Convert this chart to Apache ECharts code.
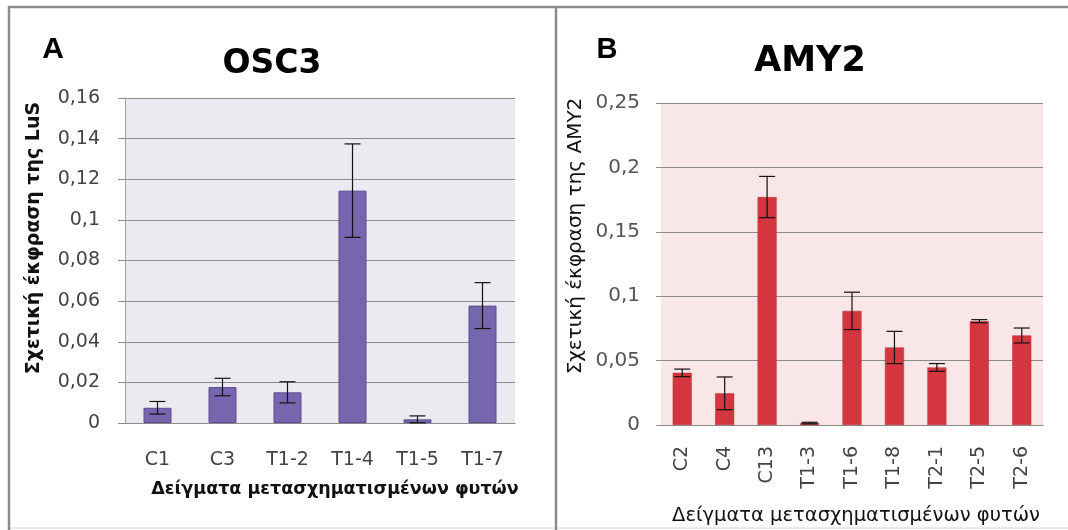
<!DOCTYPE html>
<html>
<head>
<meta charset="utf-8">
<script src="https://cdn.jsdelivr.net/npm/echarts@6/dist/echarts.min.js"></script>
<style>
  html, body { margin: 0; padding: 0; background: #ffffff; }
  #chart { width: 1068px; height: 530px; }
</style>
</head>
<body>
<div id="chart"></div>
<script>
// Panel A: OSC3 relative expression
const osc3Categories = ['C1', 'C3', 'T1-2', 'T1-4', 'T1-5', 'T1-7'];
const osc3Values = [0.0075, 0.0177, 0.0151, 0.1144, 0.0018, 0.0578];
const osc3Errors = [0.0031, 0.0043, 0.0052, 0.0230, 0.0017, 0.0113];
const osc3Ticks = { min: 0, max: 0.16, interval: 0.02 };

// Panel B: AMY2 relative expression
const amy2Categories = ['C2', 'C4', 'C13', 'T1-3', 'T1-6', 'T1-8', 'T2-1', 'T2-5', 'T2-6'];
const amy2Values = [0.0405, 0.0246, 0.1770, 0.0015, 0.0886, 0.0602, 0.0447, 0.0806, 0.0695];
const amy2Errors = [0.0029, 0.0127, 0.0160, 0.0006, 0.0145, 0.0125, 0.0030, 0.0012, 0.0058];
const amy2Ticks = { min: 0, max: 0.25, interval: 0.05 };

const FONT = 'DejaVu Sans';
const commaFmt = v => v === 0 ? '0' : String(parseFloat(v.toFixed(2))).replace('.', ',');

function errorBarSeries(xAxisIndex, yAxisIndex, values, errors, capHalf) {
  return {
    type: 'custom',
    xAxisIndex, yAxisIndex,
    silent: true,
    z: 5,
    data: values.map((v, i) => [i, v, errors[i]]),
    encode: { x: 0, y: 1 },
    renderItem(params, api) {
      const i = api.value(0), v = api.value(1), e = api.value(2);
      const hi = api.coord([i, v + e]);
      const lo = api.coord([i, Math.max(0, v - e)]);
      const style = { stroke: '#111111', lineWidth: 1.2 };
      return {
        type: 'group',
        children: [
          { type: 'line', shape: { x1: hi[0], y1: hi[1], x2: lo[0], y2: lo[1] }, style },
          { type: 'line', shape: { x1: hi[0] - capHalf, y1: hi[1], x2: hi[0] + capHalf, y2: hi[1] }, style },
          { type: 'line', shape: { x1: lo[0] - capHalf, y1: lo[1], x2: lo[0] + capHalf, y2: lo[1] }, style }
        ]
      };
    }
  };
}

const chart = echarts.init(document.getElementById('chart'), null, { renderer: 'canvas' });

chart.setOption({
  animation: false,
  backgroundColor: '#ffffff',
  grid: [
    { left: 125, top: 98, width: 390, height: 325, show: true, backgroundColor: '#ebeaf1', borderWidth: 0 },
    { left: 661, top: 103, width: 382, height: 322, show: true, backgroundColor: '#f9e6e6', borderWidth: 0 }
  ],
  xAxis: [
    {
      type: 'category', gridIndex: 0, data: osc3Categories,
      axisLine: { lineStyle: { color: '#8a8a8a', width: 1 } },
      axisTick: { show: false },
      axisLabel: { fontFamily: FONT, fontSize: 19, color: '#444444', margin: 28 }
    },
    {
      type: 'category', gridIndex: 1, data: amy2Categories,
      axisLine: { lineStyle: { color: '#8a8a8a', width: 1 } },
      axisTick: { show: false },
      axisLabel: { fontFamily: FONT, fontSize: 19, color: '#444444', rotate: 90, margin: 21 }
    }
  ],
  yAxis: [
    {
      type: 'value', gridIndex: 0, ...osc3Ticks,
      axisLine: { show: true, lineStyle: { color: '#a0a0a0' } },
      axisTick: { show: true, length: 7, lineStyle: { color: '#8a8a8a' } },
      splitLine: { lineStyle: { color: '#8a8a8a', width: 1 } },
      axisLabel: { fontFamily: FONT, fontSize: 19, color: '#444444', margin: 25, formatter: commaFmt }
    },
    {
      type: 'value', gridIndex: 1, ...amy2Ticks,
      axisLine: { show: false },
      axisTick: { show: true, length: 5, lineStyle: { color: '#8a8a8a' } },
      splitLine: { lineStyle: { color: '#8a8a8a', width: 1 } },
      axisLabel: { fontFamily: FONT, fontSize: 20, color: '#555555', margin: 21, formatter: commaFmt }
    }
  ],
  series: [
    {
      type: 'bar', xAxisIndex: 0, yAxisIndex: 0, data: osc3Values, barWidth: 28,
      itemStyle: { color: '#7666ae', borderColor: '#5b4d92', borderWidth: 1 }
    },
    errorBarSeries(0, 0, osc3Values, osc3Errors, 8),
    {
      type: 'bar', xAxisIndex: 1, yAxisIndex: 1, data: amy2Values, barWidth: 19,
      itemStyle: { color: '#d3363e', borderColor: '#b8262e', borderWidth: 0.5 }
    },
    errorBarSeries(1, 1, amy2Values, amy2Errors, 8)
  ],
  graphic: [
    // panel frames: top, left, divider, faint bottom
    { type: 'line', shape: { x1: 8, y1: 7, x2: 1068, y2: 7 }, style: { stroke: '#8c8c8c', lineWidth: 2.5 }, z: 100 },
    { type: 'line', shape: { x1: 9, y1: 6, x2: 9, y2: 530 }, style: { stroke: '#8c8c8c', lineWidth: 2.5 }, z: 100 },
    { type: 'line', shape: { x1: 556, y1: 7, x2: 556, y2: 530 }, style: { stroke: '#8c8c8c', lineWidth: 2.5 }, z: 100 },
    { type: 'line', shape: { x1: 9, y1: 528, x2: 1068, y2: 528 }, style: { stroke: '#d4d4d4', lineWidth: 1 }, z: 99 },
    // panel letters
    { type: 'text', x: 53, y: 50, style: { text: 'A', font: 'bold 30px "Liberation Sans"', fill: '#000', textAlign: 'center', textVerticalAlign: 'middle' } },
    { type: 'text', x: 607, y: 50, style: { text: 'B', font: 'bold 29px "Liberation Sans"', fill: '#000', textAlign: 'center', textVerticalAlign: 'middle' } },
    // titles
    { type: 'text', x: 272, y: 64, style: { text: 'OSC3', font: 'bold 33px "DejaVu Sans"', fill: '#000', textAlign: 'center', textVerticalAlign: 'middle' } },
    { type: 'text', x: 810, y: 62, style: { text: 'AMY2', font: 'bold 35px "DejaVu Sans"', fill: '#000', textAlign: 'center', textVerticalAlign: 'middle' } },
    // axis titles
    { type: 'text', x: 34, y: 238, rotation: Math.PI / 2, style: { text: 'Σχετική έκφραση της LuS', font: 'bold 19px "DejaVu Sans"', fill: '#111', textAlign: 'center', textVerticalAlign: 'middle' } },
    { type: 'text', x: 576, y: 236, rotation: Math.PI / 2, style: { text: 'Σχετική έκφραση της AMY2', font: '20px "DejaVu Sans"', fill: '#111', textAlign: 'center', textVerticalAlign: 'middle' } },
    { type: 'text', x: 335, y: 489, style: { text: 'Δείγματα μετασχηματισμένων φυτών', font: 'bold 17.5px "DejaVu Sans"', fill: '#111', textAlign: 'center', textVerticalAlign: 'middle' } },
    { type: 'text', x: 856, y: 516, style: { text: 'Δείγματα μετασχηματισμένων φυτών', font: '19.5px "DejaVu Sans"', fill: '#111', textAlign: 'center', textVerticalAlign: 'middle' } }
  ]
});
</script>
</body>
</html>
